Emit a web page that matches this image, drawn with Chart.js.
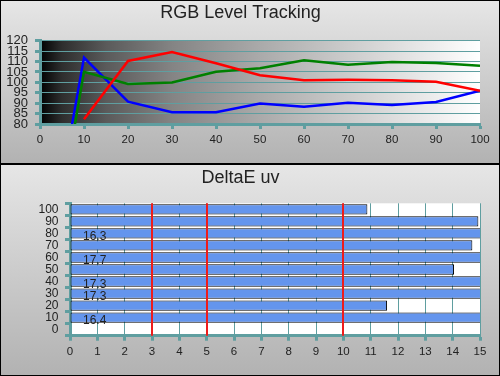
<!DOCTYPE html>
<html lang="en">
<head>
    <meta charset="UTF-8">
    <title>RGB Level Tracking / DeltaE uv</title>
    <script src="https://cdn.jsdelivr.net/npm/chart.js"></script>
    <style>
        body { margin: 0; }
        #wrap { width: 500px; height: 376px; box-sizing: border-box; border: 1px solid #000; }
        .panel { background: linear-gradient(#e6e6e6, #b2b2b2); }
        #top { height: 162px; border-bottom: 2px solid #000; }
        #bottom { height: 210px; }
        canvas { display: block; }
    </style>
</head>
<body>
    <div id="wrap">
        <div id="top" class="panel"><canvas id="rgbChart" width="498" height="162"></canvas></div>
        <div id="bottom" class="panel"><canvas id="deltaChart" width="498" height="210"></canvas></div>
    </div>

    <script>
        // RGB level tracking, % of target per grey level
        const levels = [10, 20, 30, 40, 50, 60, 70, 80, 90, 100];
        const redVals = [82.3, 110.3, 114.6, 109.2, 103.4, 101, 101.2, 101, 100.3, 96];
        const greenVals = [105.1, 99.2, 99.9, 105.1, 106.8, 110.6, 108.5, 109.8, 109.3, 108];
        const blueVals = [111.9, 90.7, 85.6, 85.6, 89.8, 88.3, 90.2, 89.1, 90.6, 96];
        // readings below the bottom of the scale, [level, value]
        const greenLow = [7.5, 74.5];
        const blueLow = [7, 76.5];

        // DeltaE uv per grey level
        const greyLevels = ['0', '10', '20', '30', '40', '50', '60', '70', '80', '90', '100'];
        const deltaE = [null, 16.4, 11.6, 17.3, 17.3, 14.05, 17.7, 14.72, 16.3, 14.94, 10.88];
        const limits = [3, 5, 10];

        const teal = '#5f9ea0';
        const txt = '#222';
        const fam = "'Liberation Sans', Arial, sans-serif";

        function pts(xs, ys, low) {
            const out = xs.map((x, i) => ({ x: x, y: ys[i] }));
            if (low) out.unshift({ x: low[0], y: low[1] });
            return out;
        }

        const plotBg = {
            id: 'plotBg',
            beforeDraw(chart) {
                const a = chart.chartArea;
                const ctx = chart.ctx;
                ctx.save();
                if (chart.canvas.id === 'rgbChart') {
                    const g = ctx.createLinearGradient(a.left, 0, a.right, 0);
                    g.addColorStop(0, '#000');
                    g.addColorStop(0.05, '#2e2e2e');
                    g.addColorStop(0.15, '#5a5a5a');
                    g.addColorStop(0.3, '#848484');
                    g.addColorStop(0.5, '#aaaaaa');
                    g.addColorStop(0.75, '#d4d4d4');
                    g.addColorStop(1, '#fff');
                    ctx.fillStyle = g;
                } else {
                    ctx.fillStyle = '#fff';
                }
                ctx.fillRect(a.left, a.top, a.right - a.left, a.bottom - a.top);
                ctx.restore();
            }
        };

        const limitLines = {
            id: 'limitLines',
            afterDatasetsDraw(chart) {
                const a = chart.chartArea;
                const ctx = chart.ctx;
                const xs = chart.scales.x;
                ctx.save();
                ctx.strokeStyle = '#ee1c1c';
                ctx.lineWidth = 2;
                limits.forEach(v => {
                    const px = Math.round(xs.getPixelForValue(v));
                    ctx.beginPath();
                    ctx.moveTo(px, a.top);
                    ctx.lineTo(px, a.bottom);
                    ctx.stroke();
                });
                // values that run off the scale are written inside the bar
                const meta = chart.getDatasetMeta(0);
                ctx.fillStyle = txt;
                ctx.font = '12px ' + fam;
                ctx.textAlign = 'left';
                ctx.textBaseline = 'middle';
                meta.data.forEach((bar, i) => {
                    const v = deltaE[i];
                    if (v !== null && v > xs.max) {
                        ctx.fillText(v.toFixed(1), a.left + 13, bar.y + 3);
                    }
                });
                ctx.restore();
            }
        };

        new Chart(document.getElementById('rgbChart'), {
            type: 'line',
            data: {
                datasets: [
                    { label: 'Red', data: pts(levels, redVals), borderColor: '#ff0000' },
                    { label: 'Green', data: pts(levels, greenVals, greenLow), borderColor: '#008000' },
                    { label: 'Blue', data: pts(levels, blueVals, blueLow), borderColor: '#0000ff' }
                ]
            },
            options: {
                responsive: false,
                animation: false,
                layout: { padding: { left: 0, right: 19, top: 0, bottom: 0 } },
                elements: {
                    line: { borderWidth: 2.5, tension: 0 },
                    point: { radius: 0 }
                },
                datasets: { line: { clip: 0 } },
                plugins: {
                    legend: { display: false },
                    tooltip: { enabled: false },
                    title: {
                        display: true,
                        text: 'RGB Level Tracking',
                        color: txt,
                        font: { family: fam, size: 18, weight: 'normal' },
                        padding: { top: 1.5, bottom: 16.6 }
                    }
                },
                scales: {
                    x: {
                        type: 'linear', min: 0, max: 100,
                        afterFit: s => { s.height = 39; },
                        ticks: { stepSize: 10, autoSkip: false, maxRotation: 0, padding: 4, color: txt, font: { family: fam, size: 11.5 } },
                        grid: { drawOnChartArea: false, tickColor: teal, tickWidth: 3, tickLength: 5 },
                        border: { color: teal, width: 3 }
                    },
                    y: {
                        min: 80, max: 120,
                        afterFit: s => { s.width = 39; },
                        ticks: { stepSize: 5, autoSkip: false, padding: 7, color: txt, font: { family: fam, size: 13 } },
                        grid: { color: teal, lineWidth: 1, tickColor: teal, tickWidth: 3, tickLength: 5 },
                        border: { color: teal, width: 3 }
                    }
                }
            },
            plugins: [plotBg]
        });

        new Chart(document.getElementById('deltaChart'), {
            type: 'bar',
            data: {
                labels: greyLevels,
                datasets: [{
                    label: 'DeltaE uv',
                    data: deltaE,
                    backgroundColor: '#6495ed',
                    borderColor: '#000',
                    borderWidth: 1,
                    borderSkipped: false,
                    barPercentage: 0.86,
                    categoryPercentage: 1,
                    clip: 0
                }]
            },
            options: {
                indexAxis: 'y',
                responsive: false,
                animation: false,
                layout: { padding: { left: 0, right: 19, top: 0, bottom: 0 } },
                plugins: {
                    legend: { display: false },
                    tooltip: { enabled: false },
                    title: {
                        display: true,
                        text: 'DeltaE uv',
                        color: txt,
                        font: { family: fam, size: 18, weight: 'normal' },
                        padding: { top: 1.8, bottom: 14.9 }
                    }
                },
                scales: {
                    x: {
                        min: 0, max: 15,
                        afterFit: s => { s.height = 39.3; },
                        ticks: { stepSize: 1, autoSkip: false, maxRotation: 0, padding: 4, color: txt, font: { family: fam, size: 11.5 } },
                        grid: { color: teal, lineWidth: 1, tickColor: teal, tickWidth: 3, tickLength: 5 },
                        border: { color: teal, width: 3 }
                    },
                    y: {
                        reverse: true,
                        afterFit: s => { s.width = 69; },
                        ticks: { autoSkip: false, padding: 6.5, color: txt, font: { family: fam, size: 12 } },
                        grid: { drawOnChartArea: false, offset: true, tickColor: teal, tickWidth: 3, tickLength: 5 },
                        border: { color: teal, width: 3 }
                    }
                }
            },
            plugins: [plotBg, limitLines]
        });
    </script>
</body>
</html>
